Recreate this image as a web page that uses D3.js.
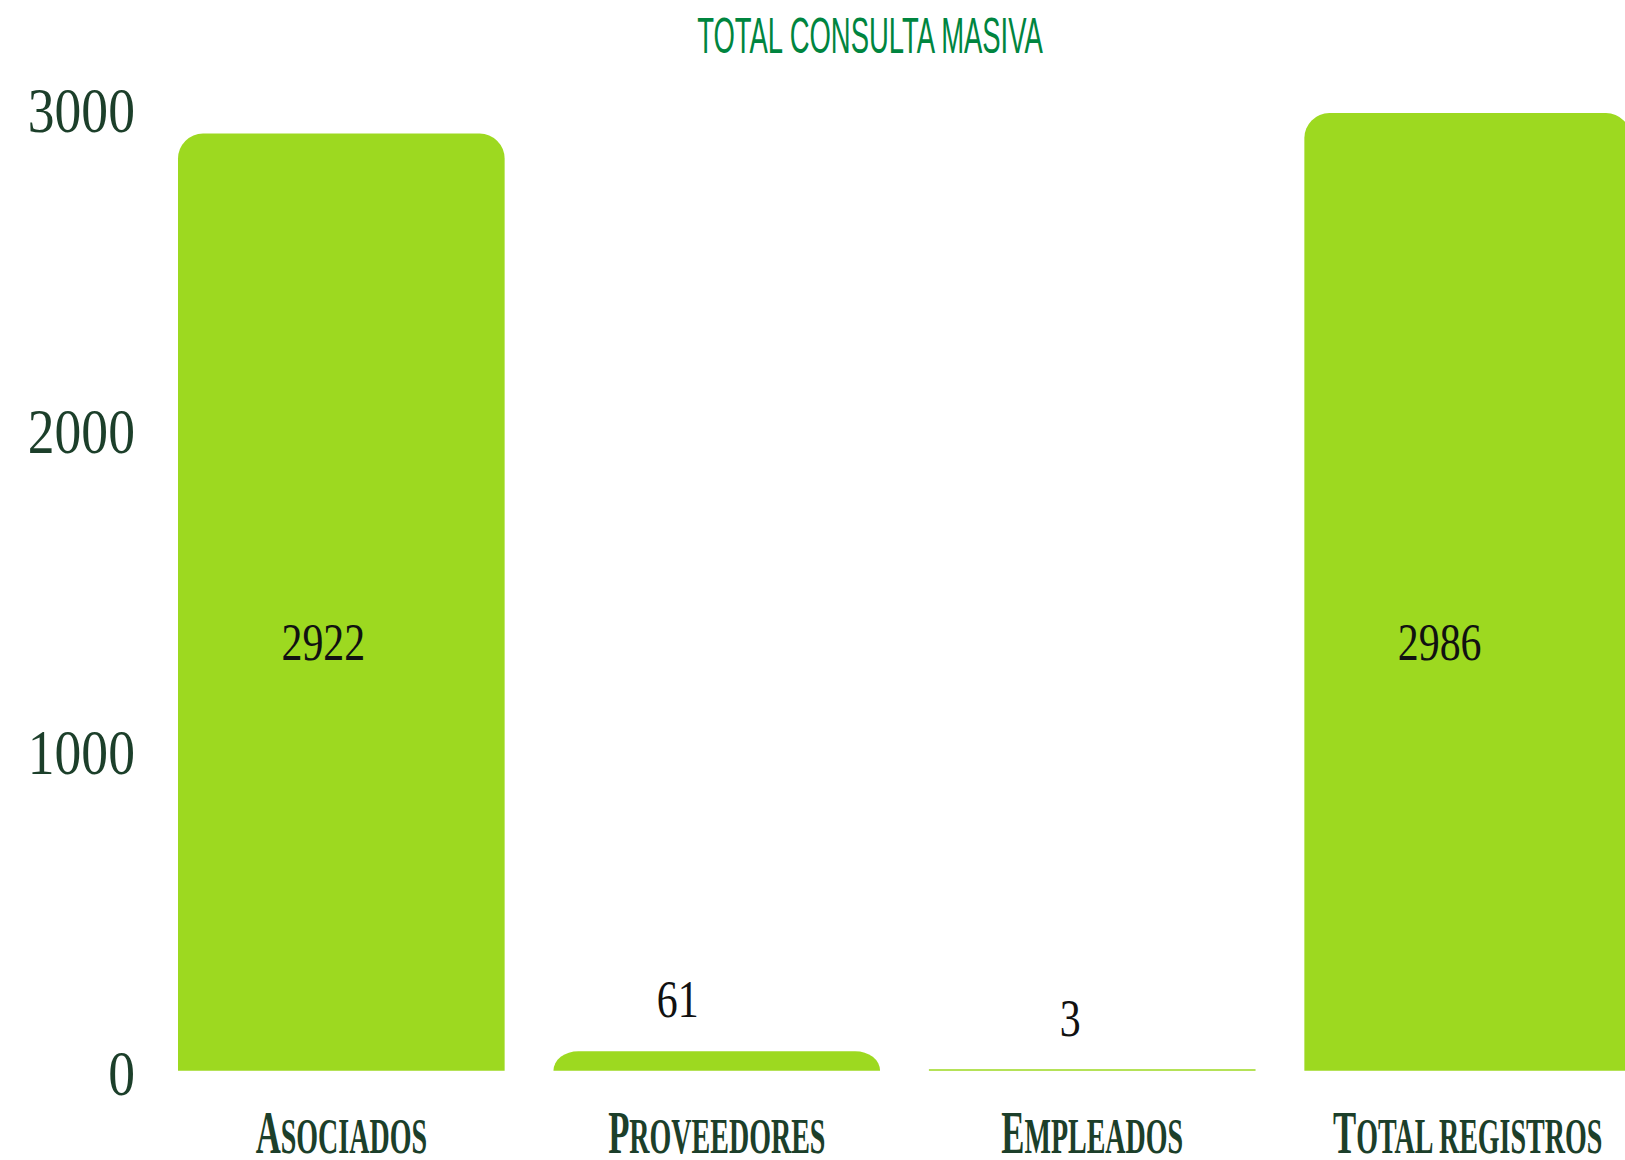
<!DOCTYPE html>
<html>
<head>
<meta charset="utf-8">
<script src="https://cdn.jsdelivr.net/npm/d3@7"></script>
<style>
	html, body { margin: 0; padding: 0; background: #ffffff; overflow: hidden; }
	#chart { width: 1625px; height: 1160px; }
</style>
</head>
<body>
<div id="chart"></div>
<script>
// data
const categories = ["Asociados", "Proveedores", "Empleados", "Total registros"];
const values = [2922, 61, 3, 2986];
const yTicks = [0, 1000, 2000, 3000];
const chartTitle = "TOTAL CONSULTA MASIVA";

const width = 1625;
const height = 1160;

const barColor = "#9dd920";
const darkGreen = "#1c3f2a";
const titleGreen = "#00853f";

const svg = d3.select("#chart")
	.append("svg")
		.attr("width", width)
		.attr("height", height);

const xScale = d3.scaleBand()
	.domain(categories)
	.range([178, 1631])
	.paddingInner(0.13)
	.paddingOuter(0);

const yScale = d3.scaleLinear()
	.domain([0, 3000])
	.range([1070.7, 108.6]);

// bar with rounded top corners
const roundTop = (x, y, w, h, r) => {
	const rx = Math.min(r, w / 2);
	const ry = Math.min(r, h);
	if (h < 3) return `M${x},${y}H${x + w}V${y + h}H${x}Z`;
	return `M${x},${y + h}` +
		`V${y + ry}` +
		`A${rx},${ry} 0 0 1 ${x + rx},${y}` +
		`H${x + w - rx}` +
		`A${rx},${ry} 0 0 1 ${x + w},${y + ry}` +
		`V${y + h}Z`;
};

svg.append("g")
	.selectAll("path")
	.data(values)
	.join("path")
		.attr("d", (d, i) => {
			const x = xScale(categories[i]);
			const y = yScale(d);
			const h = Math.max(yScale(0) - y, 1.5);
			return roundTop(x, yScale(0) - h, xScale.bandwidth(), h, 25);
		})
		.attr("fill", barColor);

// y axis
const yAxis = svg.append("g")
	.attr("transform", "translate(140,0)")
	.call(d3.axisLeft(yScale).tickValues(yTicks).tickSize(0).tickPadding(6).tickFormat(d3.format("d")));
yAxis.select(".domain").remove();
yAxis.selectAll("text")
	.attr("dy", "0.37em")
	.attr("transform", "scale(0.85,1)")
	.style("font-family", "'Liberation Serif', serif")
	.style("font-size", "63px")
	.attr("fill", darkGreen);

// x labels, drawn as small caps by hand
const xLabels = svg.append("g")
	.selectAll("text")
	.data(categories)
	.join("text")
		.attr("transform", d => `translate(${xScale(d) + xScale.bandwidth() / 2},${yScale(0) + 82}) scale(0.56,1)`)
		.attr("text-anchor", "middle")
		.style("font-family", "'Liberation Serif', serif")
		.style("font-weight", "bold")
		.attr("fill", darkGreen);

xLabels.append("tspan")
	.style("font-size", "62px")
	.text(d => d[0].toUpperCase());
xLabels.append("tspan")
	.style("font-size", "50px")
	.text(d => d.slice(1).toUpperCase());

// value labels
const labelDx = [-18, -39, -22, -28];
svg.append("g")
	.selectAll("text")
	.data(values)
	.join("text")
		.attr("transform", (d, i) => {
			const cx = xScale(categories[i]) + xScale.bandwidth() / 2 + labelDx[i];
			const cy = d > 1000 ? yScale(1280) : yScale(d) - 34;
			return `translate(${cx},${cy}) scale(0.79,1)`;
		})
		.attr("text-anchor", "middle")
		.style("font-family", "'Liberation Serif', serif")
		.style("font-size", "53px")
		.attr("fill", "#111111")
		.text(d => d);

// title
svg.append("text")
	.attr("transform", "translate(870,53) scale(0.56,1)")
	.attr("text-anchor", "middle")
	.style("font-family", "'Liberation Sans', sans-serif")
	.style("font-size", "49px")
	.attr("fill", titleGreen)
	.text(chartTitle);
</script>
</body>
</html>
